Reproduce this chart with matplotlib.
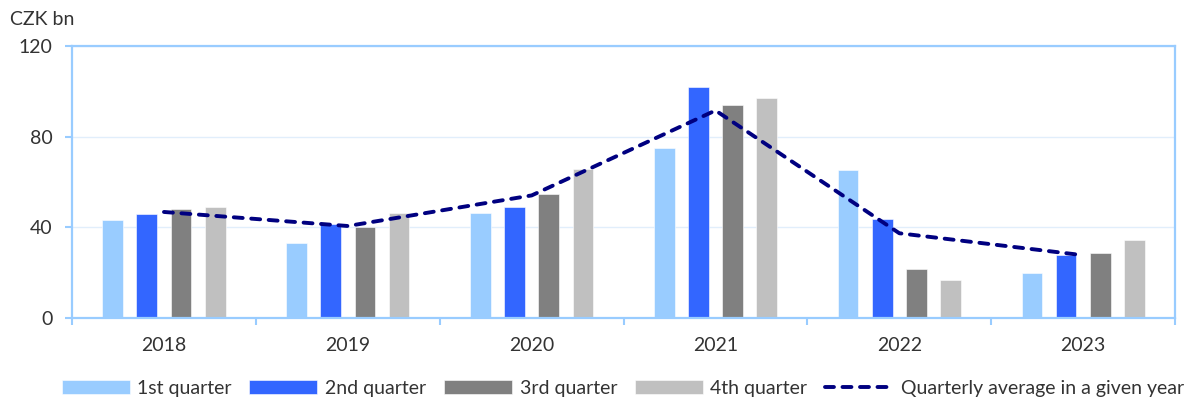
import numpy as np
import matplotlib.pyplot as plt
from matplotlib.ticker import FixedLocator

plt.rcParams['font.family'] = ['Lato', 'DejaVu Sans']

# Issued volume by quarter, CZK bn
years = ['2018', '2019', '2020', '2021', '2022', '2023']
q1 = [43.1, 33.3, 46.5, 75.0, 65.3, 19.9]
q2 = [45.8, 41.3, 48.8, 101.9, 43.8, 27.7]
q3 = [48.1, 40.0, 54.7, 93.8, 21.8, 28.5]
q4 = [49.1, 46.3, 65.8, 97.1, 16.9, 34.6]
avg = [46.8, 40.6, 54.1, 91.6, 37.4, 27.7]

labels = ['1st quarter', '2nd quarter', '3rd quarter', '4th quarter']
colors = ['#99CCFF', '#3366FF', '#808080', '#C0C0C0']
axis_col = '#99CCFF'
text_col = '#333333'
fs = 14

fig = plt.figure(figsize=(11.93, 4.01), dpi=100)
ax = fig.add_axes([0.0604, 0.207, 0.9246, 0.678])

x = np.arange(len(years))
offsets = [-0.279, -0.093, 0.093, 0.279]
width = 0.113
for vals, off, col, lab in zip([q1, q2, q3, q4], offsets, colors, labels):
    ax.bar(x + off, vals, width, color=col, label=lab, zorder=2,
           edgecolor='white', linewidth=0.4)

ax.plot(x, avg, color='#000080', lw=2.8, dashes=(2.3, 2.2),
        dash_capstyle='round', label='Quarterly average in a given year', zorder=3)

ax.set_xlim(-0.5, len(years) - 0.5)
ax.set_ylim(0, 120)
ax.set_yticks([0, 40, 80, 120])
ax.set_xticks(x)
ax.set_xticklabels(years)
ax.xaxis.set_minor_locator(FixedLocator(np.arange(-0.5, len(years), 1.0)))
ax.tick_params(axis='x', which='major', length=0, pad=14, labelsize=fs, labelcolor=text_col)
ax.tick_params(axis='x', which='minor', length=5, width=1.5, color=axis_col, direction='out')
ax.tick_params(axis='y', length=5, width=1.5, color=axis_col, labelsize=fs,
               labelcolor=text_col, pad=9)

for s in ax.spines.values():
    s.set_color(axis_col)
    s.set_linewidth(1.6)

ax.grid(axis='y', color='#E1EEFB', lw=1, zorder=0)
ax.set_axisbelow(True)

fig.text(0.008, 0.952, 'CZK bn', fontsize=fs, color=text_col, va='center', ha='left')

handles, labs = ax.get_legend_handles_labels()
order = [1, 2, 3, 4, 0]
fig.legend([handles[i] for i in order], [labs[i] for i in order],
           loc='center', bbox_to_anchor=(0.522, 0.032), ncol=5, frameon=False,
           fontsize=fs, labelcolor=text_col, handlelength=3.5, handletextpad=0.4,
           columnspacing=0.9)

fig.savefig('out.png', dpi=100)
